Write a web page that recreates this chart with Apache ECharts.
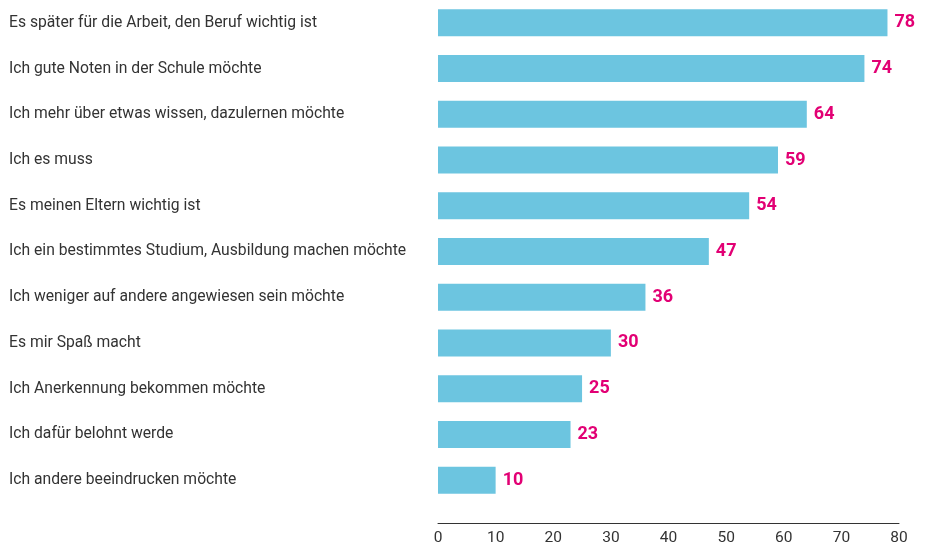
<!DOCTYPE html>
<html>
<head>
<meta charset="utf-8">
<script src="https://cdn.jsdelivr.net/npm/echarts@6/dist/echarts.min.js"></script>
<style>
    html, body { margin: 0; padding: 0; background: #fff; }
    #chart { width: 931px; height: 546px; }
</style>
</head>
<body>
<div id="chart"></div>
<script>
    // Kategorien von oben nach unten
    var categories = [
        'Es später für die Arbeit, den Beruf wichtig ist',
        'Ich gute Noten in der Schule möchte',
        'Ich mehr über etwas wissen, dazulernen möchte',
        'Ich es muss',
        'Es meinen Eltern wichtig ist',
        'Ich ein bestimmtes Studium, Ausbildung machen möchte',
        'Ich weniger auf andere angewiesen sein möchte',
        'Es mir Spaß macht',
        'Ich Anerkennung bekommen möchte',
        'Ich dafür belohnt werde',
        'Ich andere beeindrucken möchte'
    ];
    var values = [78, 74, 64, 59, 54, 47, 36, 30, 25, 23, 10];
    var tickValues = [0, 10, 20, 30, 40, 50, 60, 70, 80];

    var chart = echarts.init(document.getElementById('chart'));
    var option = {
        animation: false,
        textStyle: { fontFamily: 'Roboto' },
        grid: {
            left: 438,
            right: 32,
            top: -2,
            bottom: 40
        },
        xAxis: {
            type: 'value',
            min: tickValues[0],
            max: tickValues[tickValues.length - 1],
            interval: 10,
            offset: 20,
            splitLine: { show: false },
            axisTick: { show: false },
            axisLine: { show: true, lineStyle: { color: '#333', width: 1 } },
            axisLabel: {
                color: '#333',
                fontSize: 15.5,
                margin: 7
            }
        },
        yAxis: {
            type: 'category',
            inverse: true,
            data: categories,
            axisLine: { show: false },
            axisTick: { show: false },
            axisLabel: {
                align: 'left',
                margin: 429,
                color: '#333',
                fontSize: 15.7
            }
        },
        series: [{
            type: 'bar',
            data: values,
            barWidth: 27,
            itemStyle: { color: '#6cc5e0' },
            label: {
                show: true,
                position: 'right',
                distance: 7,
                color: '#e20074',
                fontWeight: 'bold',
                fontSize: 18
            }
        }]
    };
    chart.setOption(option);
</script>
</body>
</html>
